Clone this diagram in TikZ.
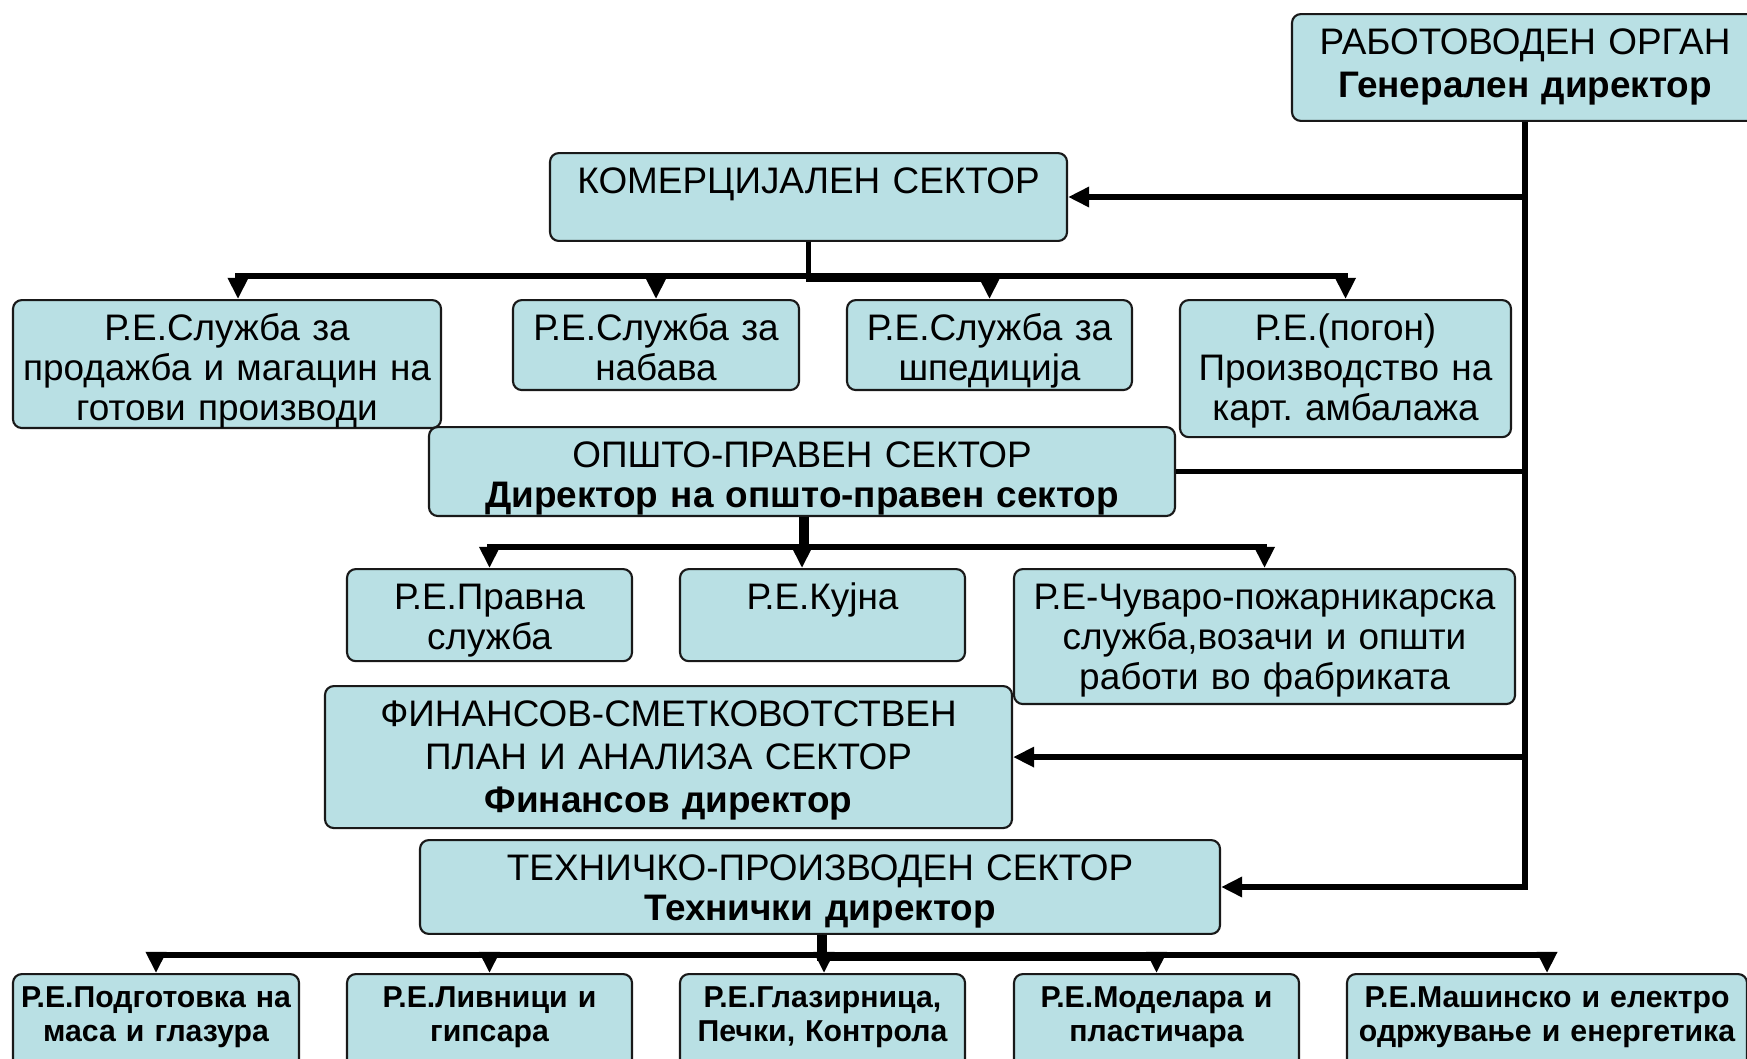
\documentclass[tikz,border=0pt]{standalone}
\usepackage{fontspec}
\setmainfont{Liberation Sans}
\frenchspacing
\usetikzlibrary{arrows.meta,positioning}
\definecolor{boxfill}{RGB}{185,224,228}
\tikzset{
  dept/.style={draw=black!90, line width=0.6pt, fill=boxfill, rounded corners=2.5pt, align=center,
    inner xsep=0pt, inner ysep=3.5pt, text height=8pt, anchor=north, font=\fontsize{10.5}{11.4}\selectfont},
  shop/.style={dept, text height=6pt, text depth=15.5pt, text width=2.86cm, font=\fontsize{8.6}{9.8}\selectfont\bfseries},
  wire/.style={line width=1.6pt},
  feed/.style={wire, -{Triangle[length=6pt,width=5.5pt]}}
}
\begin{document}
\begin{tikzpicture}
\useasboundingbox (0,0) rectangle (17.47,-10.58);

\node[dept, text width=4.66cm, text depth=15.4pt, font=\fontsize{10.5}{12.2}\selectfont] (rab) at (15.25,-0.13) {РАБОТОВОДЕН ОРГАН\\\textbf{Генерален директор}};
\node[dept, text width=5.17cm, text depth=10pt] (kom) at (8.085,-1.52) {КОМЕРЦИЈАЛЕН СЕКТОР};
\node[dept, text width=4.28cm, text depth=21.4pt] (sale) at (2.27,-2.99) {Р.Е.Служба за\\продажба и магацин на\\готови производи};
\node[dept, text width=2.86cm, text depth=10.6pt] (buy) at (6.56,-2.99) {Р.Е.Служба за\\набава};
\node[dept, text width=2.85cm, text depth=10.6pt] (ship) at (9.895,-2.99) {Р.Е.Служба за\\шпедиција};
\node[dept, text width=3.31cm, text depth=24pt] (plant) at (13.455,-2.99) {Р.Е.(погон)\\Производство на\\карт. амбалажа};
\node[dept, text width=7.46cm, text depth=10.3pt] (ops) at (8.02,-4.26) {ОПШТО-ПРАВЕН СЕКТОР\\\textbf{Директор на општо-правен сектор}};
\node[dept, text width=2.85cm, text depth=11.2pt] (legal) at (4.895,-5.68) {Р.Е.Правна\\служба};
\node[dept, text width=2.85cm, text depth=11.2pt] (kitchen) at (8.225,-5.68) {Р.Е.Кујна};
\node[dept, text width=5.01cm, text depth=23.4pt] (guard) at (12.645,-5.68) {Р.Е-Чуваро-пожарникарска\\служба,возачи и општи\\работи во фабриката};
\node[dept, text width=6.87cm, text depth=25.4pt, font=\fontsize{10.5}{12.2}\selectfont] (fin) at (6.685,-6.85) {ФИНАНСОВ-СМЕТКОВОТСТВЕН\\ПЛАН И АНАЛИЗА СЕКТОР\\\textbf{Финансов директор}};
\node[dept, text width=8cm, text depth=11.7pt] (teh) at (8.2,-8.39) {ТЕХНИЧКО-ПРОИЗВОДЕН СЕКТОР\\\textbf{Технички директор}};
\node[shop] (mass) at (1.56,-9.73) {Р.Е.Подготовка на\\маса и глазура};
\node[shop, text width=2.85cm] (cast) at (4.895,-9.73) {Р.Е.Ливници и\\гипсара};
\node[shop, text width=2.85cm] (glaze) at (8.225,-9.73) {Р.Е.Глазирница,\\Печки, Контрола};
\node[shop, text width=2.85cm] (model) at (11.565,-9.73) {Р.Е.Моделара и\\пластичара};
\node[shop, text width=4cm] (maint) at (15.47,-9.73) {Р.Е.Машинско и електро\\одржување и енергетика};

\draw[feed] (rab.south) |- (teh.east);
\draw[feed] (rab.south |- kom.east) -- (kom.east);
\draw[wire] (rab.south |- ops.east) -- (ops.east);
\draw[feed] (rab.south |- fin.east) -- (fin.east);

\draw[feed] (kom.south) -- ++(0,-0.34) -| ([xshift=0.11cm]sale.north);
\draw[feed] (kom.south) -- ++(0,-0.34) -| (buy.north);
\draw[feed] (kom.south) -- ++(0,-0.37) -| (ship.north);
\draw[feed] (kom.south) -- ++(0,-0.34) -| (plant.north);

\draw[feed] (ops.south) -- ++(0,-0.30) -| (legal.north);
\draw[feed] (ops.south) -- (ops.south |- kitchen.north);
\draw[feed] ([xshift=0.04cm]ops.south) -- ++(0,-0.30) -| (guard.north);

\draw[feed] (teh.south) -- ++(0,-0.20) -| (mass.north);
\draw[feed] (teh.south) -- ++(0,-0.20) -| (cast.north);
\draw[feed] ([xshift=0.04cm]teh.south) -- ([xshift=0.04cm]teh.south |- glaze.north);
\draw[feed] (teh.south) -- ++(0,-0.23) -| (model.north);
\draw[feed] (teh.south) -- ++(0,-0.20) -| (maint.north);
\end{tikzpicture}
\end{document}
